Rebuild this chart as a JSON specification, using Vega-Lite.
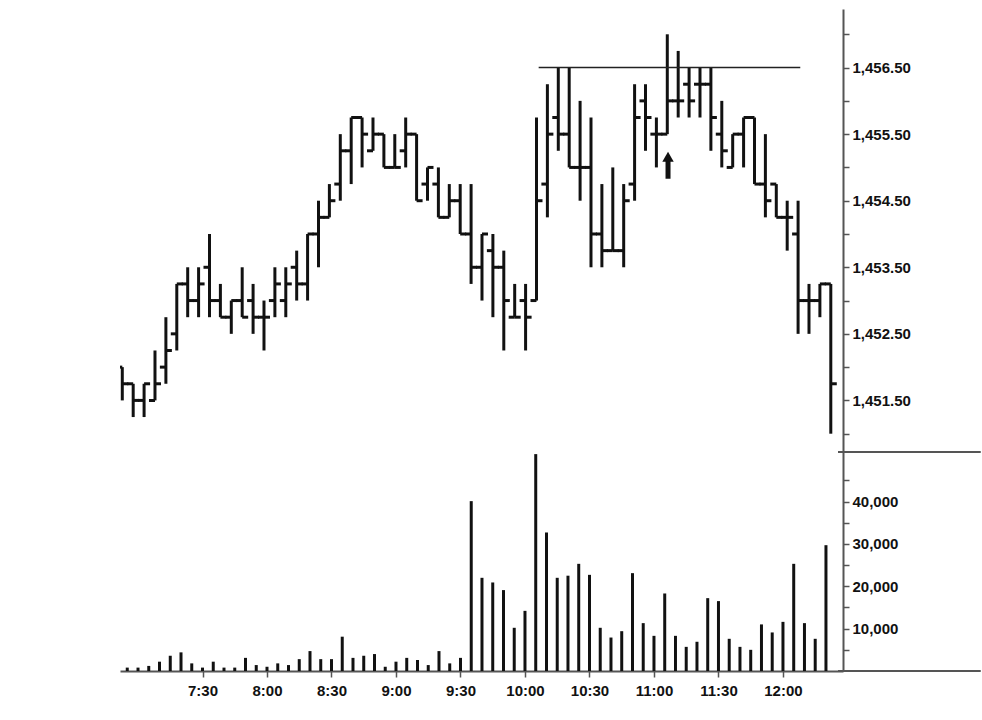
{
  "$schema": "https://vega.github.io/schema/vega-lite/v6.json",
  "padding": {"left": 120, "top": 9, "right": 0, "bottom": 0},
  "background": "white",
  "spacing": 0,
  "datasets": {
    "bars": [
      {"t": "2024-01-02T06:55:00", "o": 1452.0, "h": 1452.0, "l": 1451.5, "c": 1451.75, "v": 800},
      {"t": "2024-01-02T07:00:00", "o": 1451.75, "h": 1451.75, "l": 1451.25, "c": 1451.5, "v": 800},
      {"t": "2024-01-02T07:05:00", "o": 1451.5, "h": 1451.75, "l": 1451.25, "c": 1451.75, "v": 1200},
      {"t": "2024-01-02T07:10:00", "o": 1451.5, "h": 1452.25, "l": 1451.5, "c": 1451.75, "v": 2200},
      {"t": "2024-01-02T07:15:00", "o": 1452.0, "h": 1452.75, "l": 1451.75, "c": 1452.25, "v": 3600},
      {"t": "2024-01-02T07:20:00", "o": 1452.5, "h": 1453.25, "l": 1452.25, "c": 1453.25, "v": 4400},
      {"t": "2024-01-02T07:25:00", "o": 1453.25, "h": 1453.5, "l": 1452.75, "c": 1453.0, "v": 1800},
      {"t": "2024-01-02T07:30:00", "o": 1453.0, "h": 1453.5, "l": 1452.75, "c": 1453.25, "v": 800},
      {"t": "2024-01-02T07:35:00", "o": 1453.5, "h": 1454.0, "l": 1452.75, "c": 1453.0, "v": 2200},
      {"t": "2024-01-02T07:40:00", "o": 1453.0, "h": 1453.25, "l": 1452.75, "c": 1452.75, "v": 800},
      {"t": "2024-01-02T07:45:00", "o": 1452.75, "h": 1453.0, "l": 1452.5, "c": 1453.0, "v": 800},
      {"t": "2024-01-02T07:50:00", "o": 1453.0, "h": 1453.5, "l": 1452.75, "c": 1452.75, "v": 3100},
      {"t": "2024-01-02T07:55:00", "o": 1453.0, "h": 1453.25, "l": 1452.5, "c": 1452.75, "v": 1400},
      {"t": "2024-01-02T08:00:00", "o": 1452.75, "h": 1453.0, "l": 1452.25, "c": 1452.75, "v": 1000},
      {"t": "2024-01-02T08:05:00", "o": 1453.0, "h": 1453.5, "l": 1452.75, "c": 1453.25, "v": 1800},
      {"t": "2024-01-02T08:10:00", "o": 1453.0, "h": 1453.5, "l": 1452.75, "c": 1453.25, "v": 1400},
      {"t": "2024-01-02T08:15:00", "o": 1453.5, "h": 1453.75, "l": 1453.0, "c": 1453.25, "v": 2800},
      {"t": "2024-01-02T08:20:00", "o": 1453.25, "h": 1454.0, "l": 1453.0, "c": 1454.0, "v": 4700},
      {"t": "2024-01-02T08:25:00", "o": 1454.0, "h": 1454.5, "l": 1453.5, "c": 1454.25, "v": 2800},
      {"t": "2024-01-02T08:30:00", "o": 1454.25, "h": 1454.75, "l": 1454.25, "c": 1454.5, "v": 2800},
      {"t": "2024-01-02T08:35:00", "o": 1454.75, "h": 1455.5, "l": 1454.5, "c": 1455.25, "v": 8100},
      {"t": "2024-01-02T08:40:00", "o": 1455.25, "h": 1455.75, "l": 1454.75, "c": 1455.75, "v": 3100},
      {"t": "2024-01-02T08:45:00", "o": 1455.75, "h": 1455.75, "l": 1455.0, "c": 1455.5, "v": 3600},
      {"t": "2024-01-02T08:50:00", "o": 1455.25, "h": 1455.75, "l": 1455.25, "c": 1455.5, "v": 4000},
      {"t": "2024-01-02T08:55:00", "o": 1455.5, "h": 1455.5, "l": 1455.0, "c": 1455.0, "v": 1000},
      {"t": "2024-01-02T09:00:00", "o": 1455.0, "h": 1455.5, "l": 1455.0, "c": 1455.0, "v": 2200},
      {"t": "2024-01-02T09:05:00", "o": 1455.25, "h": 1455.75, "l": 1455.0, "c": 1455.5, "v": 3100},
      {"t": "2024-01-02T09:10:00", "o": 1455.5, "h": 1455.5, "l": 1454.5, "c": 1454.5, "v": 2600},
      {"t": "2024-01-02T09:15:00", "o": 1454.75, "h": 1455.0, "l": 1454.5, "c": 1455.0, "v": 1400},
      {"t": "2024-01-02T09:20:00", "o": 1454.75, "h": 1455.0, "l": 1454.25, "c": 1454.25, "v": 4700},
      {"t": "2024-01-02T09:25:00", "o": 1454.25, "h": 1454.75, "l": 1454.25, "c": 1454.5, "v": 1800},
      {"t": "2024-01-02T09:30:00", "o": 1454.5, "h": 1454.75, "l": 1454.0, "c": 1454.0, "v": 3100},
      {"t": "2024-01-02T09:35:00", "o": 1454.0, "h": 1454.75, "l": 1453.25, "c": 1453.5, "v": 40100},
      {"t": "2024-01-02T09:40:00", "o": 1453.5, "h": 1454.0, "l": 1453.0, "c": 1454.0, "v": 22000},
      {"t": "2024-01-02T09:45:00", "o": 1453.75, "h": 1454.0, "l": 1452.75, "c": 1453.5, "v": 20900},
      {"t": "2024-01-02T09:50:00", "o": 1453.5, "h": 1453.75, "l": 1452.25, "c": 1453.0, "v": 19100},
      {"t": "2024-01-02T09:55:00", "o": 1452.75, "h": 1453.25, "l": 1452.75, "c": 1452.75, "v": 10200},
      {"t": "2024-01-02T10:00:00", "o": 1453.0, "h": 1453.25, "l": 1452.25, "c": 1452.75, "v": 14200},
      {"t": "2024-01-02T10:05:00", "o": 1453.0, "h": 1455.75, "l": 1453.0, "c": 1454.5, "v": 51200},
      {"t": "2024-01-02T10:10:00", "o": 1454.75, "h": 1456.25, "l": 1454.25, "c": 1455.5, "v": 32700},
      {"t": "2024-01-02T10:15:00", "o": 1455.75, "h": 1456.5, "l": 1455.25, "c": 1455.5, "v": 22000},
      {"t": "2024-01-02T10:20:00", "o": 1455.5, "h": 1456.5, "l": 1455.0, "c": 1455.0, "v": 22500},
      {"t": "2024-01-02T10:25:00", "o": 1455.0, "h": 1456.0, "l": 1454.5, "c": 1455.0, "v": 25300},
      {"t": "2024-01-02T10:30:00", "o": 1455.0, "h": 1455.75, "l": 1453.5, "c": 1454.0, "v": 22700},
      {"t": "2024-01-02T10:35:00", "o": 1454.0, "h": 1454.75, "l": 1453.5, "c": 1453.75, "v": 10200},
      {"t": "2024-01-02T10:40:00", "o": 1453.75, "h": 1455.0, "l": 1453.75, "c": 1453.75, "v": 7900},
      {"t": "2024-01-02T10:45:00", "o": 1453.75, "h": 1454.75, "l": 1453.5, "c": 1454.5, "v": 9400},
      {"t": "2024-01-02T10:50:00", "o": 1454.75, "h": 1456.25, "l": 1454.5, "c": 1455.75, "v": 23100},
      {"t": "2024-01-02T10:55:00", "o": 1456.0, "h": 1456.25, "l": 1455.25, "c": 1455.75, "v": 11300},
      {"t": "2024-01-02T11:00:00", "o": 1455.5, "h": 1455.75, "l": 1455.0, "c": 1455.5, "v": 8300},
      {"t": "2024-01-02T11:05:00", "o": 1455.5, "h": 1457.0, "l": 1455.5, "c": 1456.0, "v": 18300},
      {"t": "2024-01-02T11:10:00", "o": 1456.0, "h": 1456.75, "l": 1455.75, "c": 1456.0, "v": 8300},
      {"t": "2024-01-02T11:15:00", "o": 1456.25, "h": 1456.5, "l": 1455.75, "c": 1456.0, "v": 5700},
      {"t": "2024-01-02T11:20:00", "o": 1456.25, "h": 1456.5, "l": 1455.75, "c": 1456.25, "v": 6900},
      {"t": "2024-01-02T11:25:00", "o": 1456.25, "h": 1456.5, "l": 1455.25, "c": 1455.75, "v": 17200},
      {"t": "2024-01-02T11:30:00", "o": 1455.5, "h": 1456.0, "l": 1455.0, "c": 1455.25, "v": 16500},
      {"t": "2024-01-02T11:35:00", "o": 1455.0, "h": 1455.5, "l": 1455.0, "c": 1455.5, "v": 7600},
      {"t": "2024-01-02T11:40:00", "o": 1455.5, "h": 1455.75, "l": 1455.0, "c": 1455.75, "v": 5700},
      {"t": "2024-01-02T11:45:00", "o": 1455.75, "h": 1455.75, "l": 1454.75, "c": 1454.75, "v": 5000},
      {"t": "2024-01-02T11:50:00", "o": 1454.75, "h": 1455.5, "l": 1454.25, "c": 1454.5, "v": 11000},
      {"t": "2024-01-02T11:55:00", "o": 1454.75, "h": 1454.75, "l": 1454.25, "c": 1454.25, "v": 9100},
      {"t": "2024-01-02T12:00:00", "o": 1454.25, "h": 1454.5, "l": 1453.75, "c": 1454.25, "v": 11600},
      {"t": "2024-01-02T12:05:00", "o": 1454.0, "h": 1454.5, "l": 1452.5, "c": 1453.0, "v": 25300},
      {"t": "2024-01-02T12:10:00", "o": 1453.0, "h": 1453.25, "l": 1452.5, "c": 1453.0, "v": 11300},
      {"t": "2024-01-02T12:15:00", "o": 1453.0, "h": 1453.25, "l": 1452.75, "c": 1453.25, "v": 7600},
      {"t": "2024-01-02T12:20:00", "o": 1453.25, "h": 1453.25, "l": 1451.0, "c": 1451.75, "v": 29700}
    ],
    "resistance": [{"t1": "2024-01-02T10:06:00", "t2": "2024-01-02T12:06:00", "p": 1456.5}],
    "arrow": [{"t": "2024-01-02T11:05:20", "p1": 1454.83, "p2": 1455.1, "ph": 1455.16}],
    "frame": [
      {"t1": "2024-01-02T12:25:36", "t2": "2024-01-02T13:32:00", "v": 0},
      {"t1": "2024-01-02T12:25:36", "t2": "2024-01-02T13:32:00", "v": 51700}
    ]
  },
  "vconcat": [
    {
      "width": 723,
      "height": 442,
      "data": {"name": "bars"},
      "encoding": {
        "x": {
          "field": "t", "type": "temporal", "axis": null,
          "scale": {"domain": [
            {"year": 2024, "month": 1, "date": 2, "hours": 6, "minutes": 53, "seconds": 57},
            {"year": 2024, "month": 1, "date": 2, "hours": 12, "minutes": 25, "seconds": 36}
          ]}
        },
        "y": {
          "field": "l", "type": "quantitative",
          "scale": {"domain": [1450.74, 1457.38], "zero": false, "nice": false},
          "axis": {
            "orient": "right", "title": null, "format": ",.2f",
            "values": [1451, 1451.5, 1452, 1452.5, 1453, 1453.5, 1454, 1454.5, 1455, 1455.5, 1456, 1456.5, 1457],
            "labelExpr": "datum.value % 1 == 0.5 ? datum.label : ''",
            "labelOverlap": false, "labelPadding": 3
          }
        }
      },
      "layer": [
        {
          "mark": {"type": "rule", "strokeWidth": 3, "color": "#111", "clip": true},
          "encoding": {"y2": {"field": "h"}}
        },
        {
          "mark": {"type": "tick", "orient": "horizontal", "size": 6, "thickness": 3, "xOffset": -3, "color": "#111", "opacity": 1, "clip": true},
          "encoding": {"y": {"field": "o", "type": "quantitative"}}
        },
        {
          "mark": {"type": "tick", "orient": "horizontal", "size": 6, "thickness": 3, "xOffset": 3, "color": "#111", "opacity": 1, "clip": true},
          "encoding": {"y": {"field": "c", "type": "quantitative"}}
        },
        {
          "data": {"name": "resistance"},
          "mark": {"type": "rule", "strokeWidth": 1.5, "color": "#222"},
          "encoding": {
            "x": {"field": "t1", "type": "temporal"},
            "x2": {"field": "t2"},
            "y": {"field": "p", "type": "quantitative"}
          }
        },
        {
          "data": {"name": "arrow"},
          "mark": {"type": "rule", "strokeWidth": 5, "color": "#111"},
          "encoding": {
            "x": {"field": "t", "type": "temporal"},
            "y": {"field": "p1", "type": "quantitative"},
            "y2": {"field": "p2"}
          }
        },
        {
          "data": {"name": "arrow"},
          "mark": {"type": "point", "shape": "triangle-up", "filled": true, "size": 130, "color": "#111", "opacity": 1},
          "encoding": {
            "x": {"field": "t", "type": "temporal"},
            "y": {"field": "ph", "type": "quantitative"}
          }
        }
      ]
    },
    {
      "width": 723,
      "height": 219,
      "data": {"name": "bars"},
      "encoding": {
        "x": {
          "field": "t", "type": "temporal",
          "scale": {"domain": [
            {"year": 2024, "month": 1, "date": 2, "hours": 6, "minutes": 53, "seconds": 57},
            {"year": 2024, "month": 1, "date": 2, "hours": 12, "minutes": 25, "seconds": 36}
          ]},
          "axis": {
            "title": null, "format": "%-H:%M", "labelPadding": 6,
            "values": [
              {"year": 2024, "month": 1, "date": 2, "hours": 7, "minutes": 30},
              {"year": 2024, "month": 1, "date": 2, "hours": 8, "minutes": 0},
              {"year": 2024, "month": 1, "date": 2, "hours": 8, "minutes": 30},
              {"year": 2024, "month": 1, "date": 2, "hours": 9, "minutes": 0},
              {"year": 2024, "month": 1, "date": 2, "hours": 9, "minutes": 30},
              {"year": 2024, "month": 1, "date": 2, "hours": 10, "minutes": 0},
              {"year": 2024, "month": 1, "date": 2, "hours": 10, "minutes": 30},
              {"year": 2024, "month": 1, "date": 2, "hours": 11, "minutes": 0},
              {"year": 2024, "month": 1, "date": 2, "hours": 11, "minutes": 30},
              {"year": 2024, "month": 1, "date": 2, "hours": 12, "minutes": 0}
            ]
          }
        },
        "y": {
          "field": "v", "type": "quantitative",
          "scale": {"domain": [0, 51700], "nice": false},
          "axis": {
            "orient": "right", "title": null, "format": ",d",
            "values": [5000, 10000, 15000, 20000, 25000, 30000, 35000, 40000, 45000],
            "labelExpr": "datum.value % 10000 == 0 ? datum.label : ''",
            "labelOverlap": false, "labelPadding": 3
          }
        }
      },
      "layer": [
        {
          "mark": {"type": "bar", "size": 3, "color": "#111"}
        },
        {
          "data": {"name": "frame"},
          "mark": {"type": "rule", "strokeWidth": 2, "color": "#555", "clip": false},
          "encoding": {
            "x": {"field": "t1", "type": "temporal"},
            "x2": {"field": "t2"}
          }
        }
      ]
    }
  ],
  "config": {
    "view": {"stroke": null},
    "axis": {
      "labelFont": "Liberation Sans",
      "labelFontSize": 15,
      "labelFontWeight": "bold",
      "labelColor": "#111",
      "domainColor": "#555",
      "domainWidth": 2,
      "tickColor": "#555",
      "tickWidth": 1.5,
      "tickSize": 6,
      "grid": false
    }
  }
}
